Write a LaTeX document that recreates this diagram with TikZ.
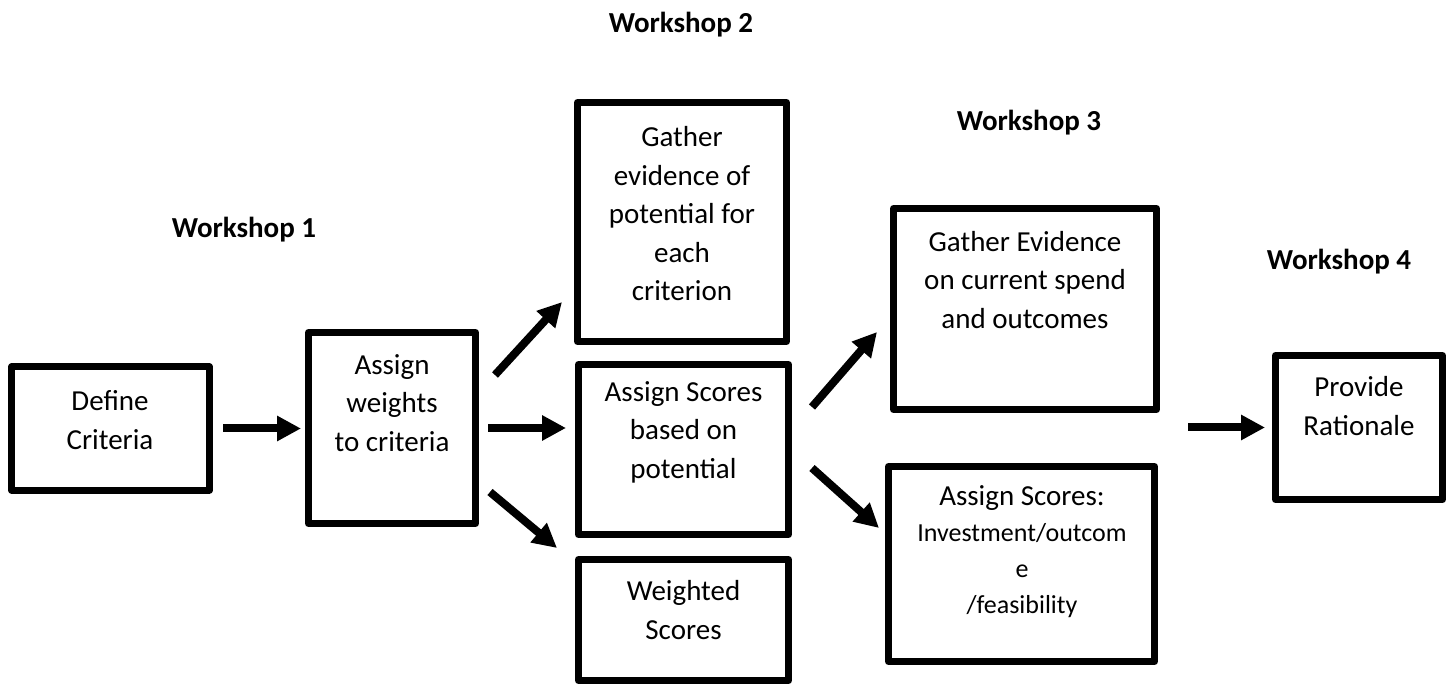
\documentclass[tikz,border=0pt]{standalone}
\usepackage{fontspec}
\setmainfont{Carlito}
\usetikzlibrary{arrows.meta,calc}
\begin{document}
\begin{tikzpicture}[x=1pt,y=-1pt,
  box/.style={draw=black,line width=7pt,line join=round,outer sep=3.5pt,inner sep=0pt,rectangle},
  txt/.style={align=center,inner sep=0pt,font=\fontsize{29}{38.5}\selectfont},
  wlab/.style={inner sep=0pt,font=\fontsize{29}{35}\selectfont\bfseries},
  arr/.style={line width=8pt,-{Triangle[length=24pt,width=24pt]}}]
\useasboundingbox[fill=white] (0,0) rectangle (1454,684);

% boxes
\node[box,minimum width=198pt,minimum height=123pt] (define) at (110.5,428.5) {};
\node[box,minimum width=167pt,minimum height=191pt] (weights) at (392,428) {};
\node[box,minimum width=209pt,minimum height=239pt] (gpot) at (682,222) {};
\node[box,minimum width=210pt,minimum height=170pt] (spot) at (683.5,449.5) {};
\node[box,minimum width=210pt,minimum height=121pt] (wsc) at (683.5,620) {};
\node[box,minimum width=263pt,minimum height=201pt] (gcur) at (1025,309) {};
\node[box,minimum width=266pt,minimum height=195pt] (sinv) at (1021.5,564) {};
\node[box,minimum width=167pt,minimum height=144pt] (prov) at (1359,427.5) {};

% texts
\node[txt] (defineT) at (110,420) {Define\\Criteria};
\node[txt] (weightsT) at (392,403) {Assign\\weights\\to criteria};
\node[txt] (gpotT) at (682,214) {Gather\\evidence of\\potential for\\each\\criterion};
\node[txt] (spotT) at (683.5,432) {Assign Scores\\based on\\potential};
\node[txt] (wscT) at (683.5,610) {Weighted\\Scores};
\node[txt] (gcurT) at (1025,280) {Gather Evidence\\on current spend\\and outcomes};
\node[txt,font=\fontsize{26}{36}\selectfont] (sinvT) at (1022,552)
  {{\fontsize{29}{36}\selectfont Assign Scores:}\\Investment/outcom\\e\\/feasibility};
\node[txt] (provT) at (1359,406) {Provide\\Rationale};

% workshop labels
\node[wlab] (w1) at (244,230) {Workshop 1};
\node[wlab] (w2) at (681,25) {Workshop 2};
\node[wlab] (w3) at (1029,123) {Workshop 3};
\node[wlab] (w4) at (1339,262) {Workshop 4};

% arrows
\draw[arr] ($(define.east)+(10,0)$) -- ($(weights.west |- define.east)+(-4,0)$);
\draw[arr] ($(weights.east)+(9,0)$) -- ($(spot.west |- weights.east)+(-9,0)$);
\draw[arr] ($(weights.east)+(16,-53)$) -- ($(gpot.south west)+(-12,-43)$);
\draw[arr] ($(weights.east)+(11,64)$) -- ($(wsc.north west)+(-18,-8)$);
\draw[arr] ($(spot.east)+(20,-42.5)$) -- ($(gcur.west)+(-13,23)$);
\draw[arr] ($(spot.east)+(20,18.5)$) -- ($(sinv.west)+(-6,-36)$);
\draw[arr] ($(gcur.east |- prov.west)+(28,0)$) -- ($(prov.west)+(-7,0)$);
\end{tikzpicture}
\end{document}
